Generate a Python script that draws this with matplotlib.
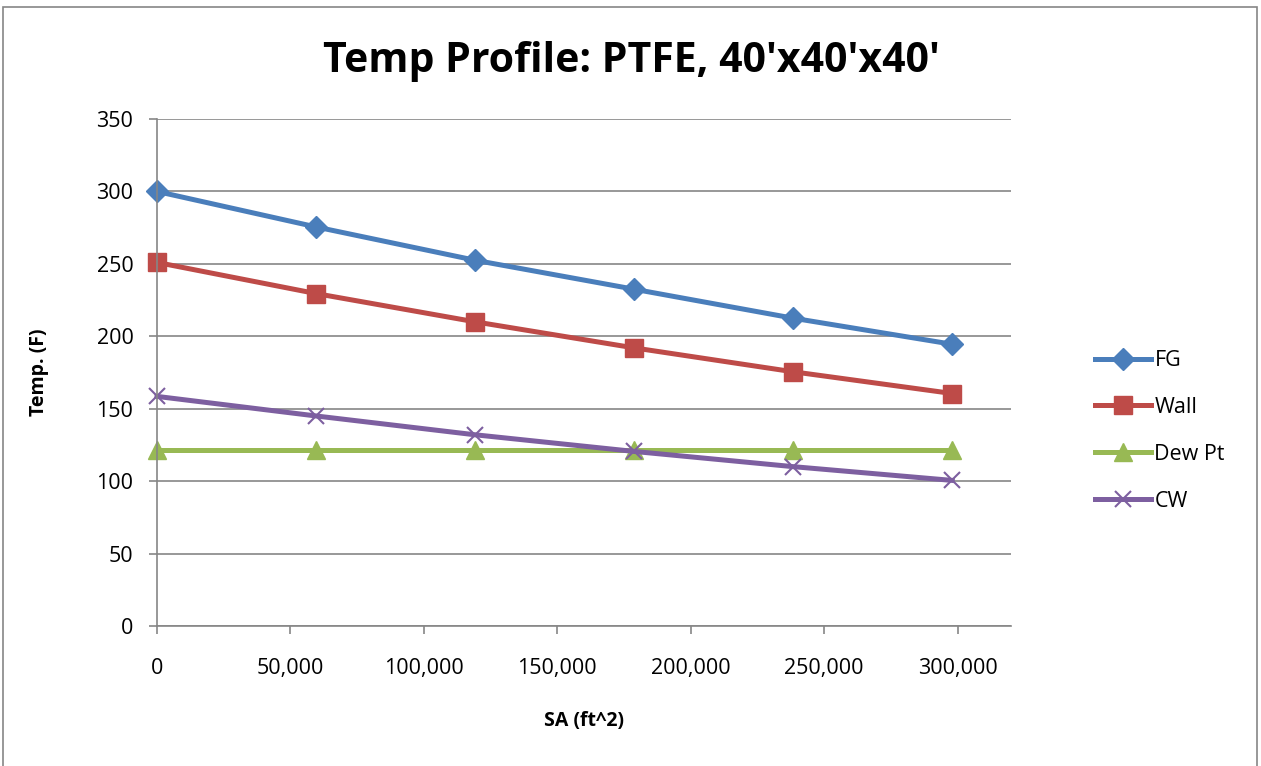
import matplotlib.pyplot as plt
from matplotlib.patches import Rectangle
from matplotlib.ticker import FuncFormatter, MultipleLocator

# data
sa = [0, 59600, 119200, 178800, 238400, 298000]
fg = [300, 275.5, 252.5, 232.5, 212.5, 194.5]
wall = [251, 229.5, 210, 192, 175.5, 160.5]
dew_pt = [121.5, 121.5, 121.5, 121.5, 121.5, 121.5]
cw = [158.5, 145, 132, 120.5, 110, 100.5]

plt.rcParams['font.family'] = ['Open Sans', 'DejaVu Sans']

fig = plt.figure(figsize=(12.61, 7.66), dpi=100)
ax = fig.add_axes([0.1245, 0.1828, 0.6772, 0.6618])

# outer chart border
fig.patches.append(Rectangle((3 / 1261, -0.01), 1254 / 1261, 1 - 7 / 766 + 0.01,
                             transform=fig.transFigure, fill=False,
                             edgecolor='#868686', linewidth=1.2))

ax.plot(sa, fg, color='#4A7EBB', lw=3.6, marker='D', ms=11, label='FG', clip_on=False)
ax.plot(sa, wall, color='#BE4B48', lw=3.6, marker='s', ms=12.5, label='Wall', clip_on=False)
ax.plot(sa, dew_pt, color='#98B954', lw=3.6, marker='^', ms=13, label='Dew Pt', clip_on=False)
ax.plot(sa, cw, color='#7D5FA0', lw=3.6, marker='x', ms=12, mew=1.5, label='CW', clip_on=False)

ax.set_xlim(0, 320000)
ax.set_ylim(0, 350)
ax.xaxis.set_major_locator(MultipleLocator(50000))
ax.yaxis.set_major_locator(MultipleLocator(50))
ax.xaxis.set_major_formatter(FuncFormatter(lambda v, p: f'{int(v):,}'))
ax.grid(axis='y', color='#868686', lw=1.2)
ax.set_axisbelow(True)
for s in ['top', 'right']:
    ax.spines[s].set_visible(False)
for s in ['left', 'bottom']:
    ax.spines[s].set_color('#868686')
    ax.spines[s].set_linewidth(1.2)
ax.tick_params(colors='#868686', labelcolor='black', length=6, width=1.2,
               labelsize=15.5)
ax.tick_params(axis='x', pad=17)
ax.tick_params(axis='y', pad=11)

fig.text(631 / 1261, 1 - 62 / 766, "Temp Profile: PTFE, 40'x40'x40'", fontsize=29.5,
         fontweight='bold', ha='center', va='center')
ax.set_xlabel('SA (ft^2)', fontsize=14, fontweight='bold', labelpad=23)
ax.set_ylabel('Temp. (F)', fontsize=14, fontweight='bold', labelpad=34)

ax.legend(loc='center left', bbox_to_anchor=(1.076, 0.385), frameon=False,
          fontsize=15.5, handlelength=2.6, labelspacing=1.2, handletextpad=0.15)

fig.savefig('out.png', dpi=100)
